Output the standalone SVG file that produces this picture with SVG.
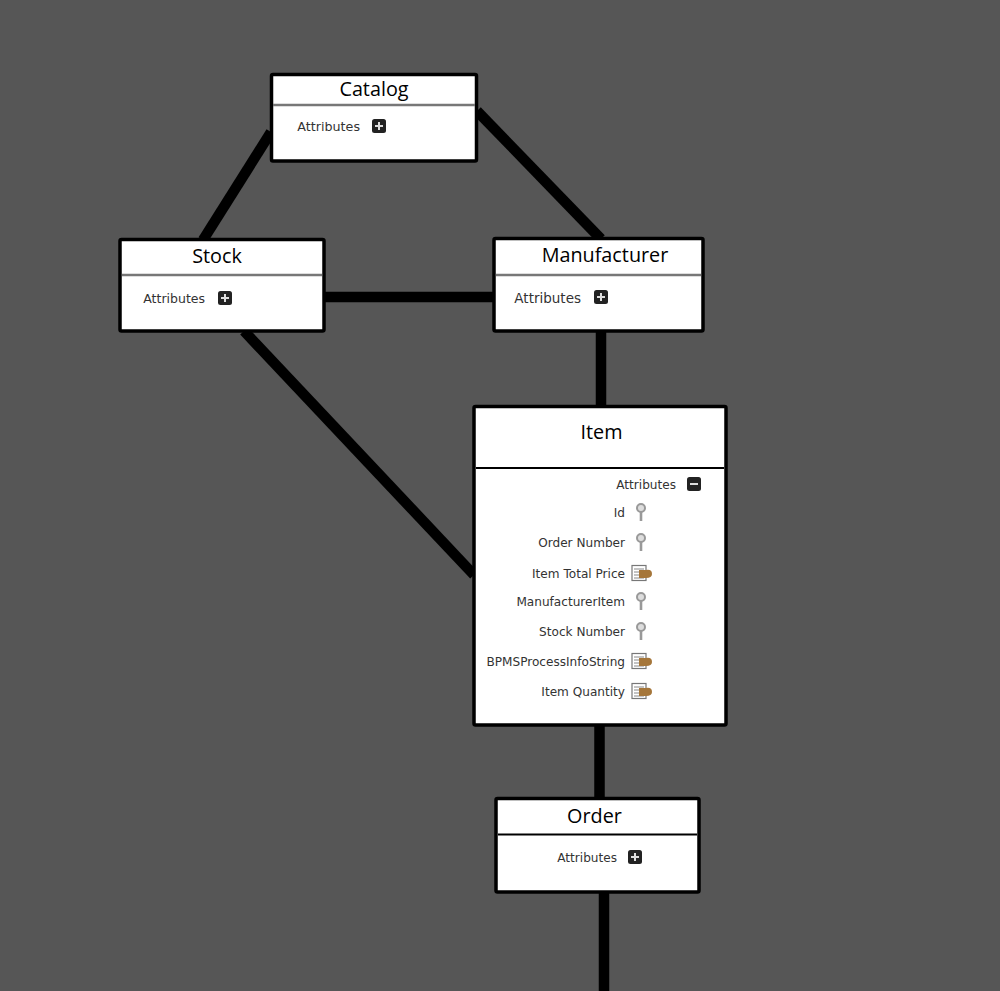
<svg xmlns="http://www.w3.org/2000/svg" width="1000" height="991" viewBox="0 0 1000 991">
<style>
.box{fill:#fff;stroke:#000;stroke-width:3.5}
.div{stroke:#777;stroke-width:2.5;fill:none}
.divd{stroke:#000;stroke-width:2;fill:none}
.t{font-family:"Open Sans","DejaVu Sans",sans-serif;font-size:19.8px;fill:#000;text-anchor:middle}
.a{font-family:"DejaVu Sans","Liberation Sans",sans-serif;font-size:12.1px;fill:#333;text-anchor:end}
.c{stroke:#000;stroke-width:10.500;fill:none}
.btn{fill:#222}
.gl{stroke:#ddd;stroke-width:2;fill:none}
.k{fill:#ddd;stroke:#999;stroke-width:2}
.d{fill:#fff;stroke:#777;stroke-width:1.2}
.dl{stroke:#888;stroke-width:1}
.o{fill:#a5763a}
</style>
<defs>
<g id="plus"><rect class="btn" x="-7" y="-7" width="14" height="14" rx="2.500"/><path class="gl" d="M-4 0H4M0-4V4"/></g>
<g id="minus"><rect class="btn" x="-7" y="-7" width="14" height="14" rx="2.500"/><path class="gl" d="M-4 0H4"/></g>
<g id="key"><circle class="k" cx="0" cy="-4" r="4"/><path d="M0 0V9" stroke="#999" stroke-width="2.600" fill="none"/></g>
<g id="doc"><rect class="d" x="-9" y="-7.500" width="14" height="15"/><path class="dl" d="M-7-4H3M-7-1H3M-7 2H3M-7 5H3"/><path class="o" d="M-2-3H5Q11-4 11 1 11 5 5 5H-2Z"/></g>
</defs>
<rect width="1000" height="991" fill="#565656"/>
<g id="connectors">
<path class="c" d="M271 132L203 240"/>
<path class="c" d="M477 111L601 239"/>
<path class="c" d="M323 297H495"/>
<path class="c" d="M244 331L474 575"/>
<path class="c" d="M601 331V406"/>
<path class="c" d="M599.500 725V798"/>
<path class="c" d="M604 893V991"/>
</g>
<g id="catalog">
<rect class="box" x="271.500" y="74.500" width="205" height="86.500" rx="1.500"/>
<path class="div" d="M273 105H475"/>
<text class="t" x="374" y="95.500">Catalog</text>
<text class="a" x="360" y="131" style="font-size:12.700px">Attributes</text>
<use href="#plus" x="379" y="126"/>
</g>
<g id="stock">
<rect class="box" x="120" y="239.500" width="204" height="91.500" rx="1.500"/>
<path class="div" d="M122 275H322"/>
<text class="t" x="217" y="262.500">Stock</text>
<text class="a" x="205" y="303" style="font-size:12.500px">Attributes</text>
<use href="#plus" x="225" y="298"/>
</g>
<g id="manufacturer">
<rect class="box" x="494" y="238.500" width="209" height="92.500" rx="1.500"/>
<path class="div" d="M496 275H701"/>
<text class="t" x="605" y="261.500">Manufacturer</text>
<text class="a" x="581" y="303" style="font-size:13.500px">Attributes</text>
<use href="#plus" x="601" y="297"/>
</g>
<g id="item">
<rect class="box" x="474" y="406.500" width="252" height="318.500" rx="1.500"/>
<path class="divd" d="M476 468H724"/>
<text class="t" x="601.500" y="438.500">Item</text>
<text class="a" x="676" y="489">Attributes</text>
<use href="#minus" x="694" y="484"/>
<text class="a" x="625" y="517">Id</text>
<use href="#key" x="641" y="512"/>
<text class="a" x="625" y="547">Order Number</text>
<use href="#key" x="641" y="542"/>
<text class="a" x="625" y="578">Item Total Price</text>
<use href="#doc" x="641" y="573"/>
<text class="a" x="625" y="606">ManufacturerItem</text>
<use href="#key" x="641" y="601"/>
<text class="a" x="625" y="636">Stock Number</text>
<use href="#key" x="641" y="631"/>
<text class="a" x="625" y="666">BPMSProcessInfoString</text>
<use href="#doc" x="641" y="661"/>
<text class="a" x="625" y="696">Item Quantity</text>
<use href="#doc" x="641" y="691"/>
</g>
<g id="order">
<rect class="box" x="496" y="798.500" width="203" height="93.500" rx="1.500"/>
<path class="divd" d="M498 834.500H697"/>
<text class="t" x="594.500" y="822.500">Order</text>
<text class="a" x="617" y="862">Attributes</text>
<use href="#plus" x="635" y="857"/>
</g>
</svg>
